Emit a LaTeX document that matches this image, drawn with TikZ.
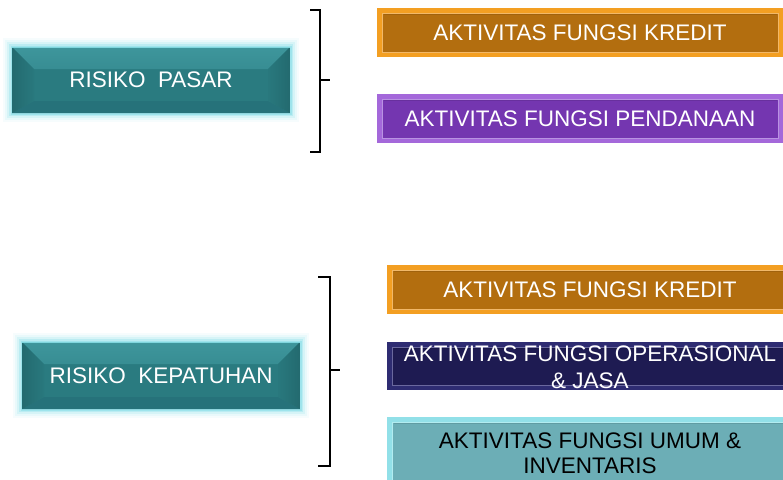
\documentclass[tikz,border=0pt]{standalone}
\usepackage{fontspec}
\setmainfont{Liberation Sans}
\usetikzlibrary{calc}

% palette
\definecolor{tealbase}{HTML}{2A7B80}
\definecolor{tealtop}{HTML}{3E969C}
\definecolor{tealside}{HTML}{236A6F}
\definecolor{tealright}{HTML}{2C7F85}
\definecolor{tealbot}{HTML}{26727A}
\definecolor{tealhi}{HTML}{7FD6DE}
\definecolor{tealglow}{HTML}{8ADFE8}
\definecolor{orgout}{HTML}{F39F22}
\definecolor{orgin}{HTML}{B36E0F}
\definecolor{orgline}{HTML}{F2B868}
\definecolor{purout}{HTML}{A468DA}
\definecolor{purin}{HTML}{7436B0}
\definecolor{purline}{HTML}{B992E2}
\definecolor{navout}{HTML}{2E2C72}
\definecolor{navin}{HTML}{1E1B52}
\definecolor{navline}{HTML}{6A689E}
\definecolor{ltout}{HTML}{92E0E8}
\definecolor{ltin}{HTML}{6CAEB6}
\definecolor{ltline}{HTML}{B2ECF0}

\tikzset{
  lbl/.style={font=\fontsize{22.5}{27}\selectfont},
  riskbox/.style={
    minimum width=278pt, minimum height=66pt, inner sep=0pt,
    fill=tealbase, text=white, lbl,
    preaction={draw=tealglow, line width=18pt, opacity=0.08},
    preaction={draw=tealglow, line width=14pt, opacity=0.12},
    preaction={draw=tealglow, line width=10pt, opacity=0.2},
    preaction={draw=tealglow, line width=6pt, opacity=0.35},
    preaction={draw=tealglow, line width=3pt, opacity=0.6},
    path picture={
      \shade[top color=tealtop, bottom color=tealbase] (path picture bounding box.north west) -- (path picture bounding box.north east)
        -- ($(path picture bounding box.north east)+(-22,22)$) -- ($(path picture bounding box.north west)+(22,22)$) -- cycle;
      \fill[tealbot] (path picture bounding box.south west) -- (path picture bounding box.south east)
        -- ($(path picture bounding box.south east)+(-22,-12)$) -- ($(path picture bounding box.south west)+(22,-12)$) -- cycle;
      \shade[left color=tealside, right color=tealbase!85!tealside] (path picture bounding box.north west) -- ($(path picture bounding box.north west)+(22,22)$)
        -- ($(path picture bounding box.south west)+(22,-12)$) -- (path picture bounding box.south west) -- cycle;
      \shade[right color=tealside, left color=tealbase!85!tealside] (path picture bounding box.north east) -- ($(path picture bounding box.north east)+(-22,22)$)
        -- ($(path picture bounding box.south east)+(-22,-12)$) -- (path picture bounding box.south east) -- cycle;
      \draw[tealhi, line width=2.5pt] (path picture bounding box.north west) -- (path picture bounding box.north east);
    }},
  actbox/.style n args={3}{
    minimum width=406pt, minimum height=49pt, inner sep=0pt,
    fill=#1, text=white, lbl,
    path picture={
      \fill[#2] ($(path picture bounding box.north west)+(5,5)$) rectangle ($(path picture bounding box.south east)+(-5,-5)$);
      \draw[#3, line width=0.9pt] ($(path picture bounding box.north west)+(5,5)$) rectangle ($(path picture bounding box.south east)+(-5,-5)$);
      \draw[#2!80!black, line width=1.5pt, opacity=0.5] ($(path picture bounding box.north west)+(6.5,6.5)$) -- ($(path picture bounding box.north east)+(-6.5,6.5)$);
    }},
  brace/.style={draw=black, line width=1.3pt}
}

\begin{document}
\begin{tikzpicture}[x=1pt, y=-1pt]
\useasboundingbox (0,0) rectangle (783,479);

% upper group
\node[riskbox] (pasar) at (151,80) {RISIKO~~PASAR};
\node[actbox={orgout}{orgin}{orgline}] (kred1) at (580,32.5) {AKTIVITAS FUNGSI KREDIT};
\node[actbox={purout}{purin}{purline}] (dana) at (580,118.5) {AKTIVITAS FUNGSI PENDANAAN};

% lower group
\node[riskbox, minimum height=67pt] (patuh) at (161,375.5) {RISIKO~~KEPATUHAN};
\node[actbox={orgout}{orgin}{orgline}] (kred2) at (590,289.5) {AKTIVITAS FUNGSI KREDIT};
\node[actbox={navout}{navin}{navline}, minimum height=48pt] (oper) at (590,366) {};
\node[text=white, align=center, inner sep=0pt, font=\fontsize{22.5}{27.5}\selectfont] (oper-t) at (590,367) {AKTIVITAS FUNGSI OPERASIONAL\\\& JASA};
\node[actbox={ltout}{ltin}{ltline}, minimum height=72pt] (umum) at (590,453) {};
\node[text=black, align=center, inner sep=0pt, font=\fontsize{22.5}{24.5}\selectfont] (umum-t) at (590,453) {AKTIVITAS FUNGSI UMUM \&\\INVENTARIS};

% braces
\coordinate (b1) at (330,80);
\coordinate (b2) at (340,370);
\draw[brace] (310,10) -- (320,10) -- (320,80) -- (b1);
\draw[brace] (320,80) -- (320,152) -- (310,152);
\draw[brace] (318,277) -- (330,277) -- (330,370) -- (b2);
\draw[brace] (330,370) -- (330,466) -- (318,466);
\end{tikzpicture}
\end{document}
